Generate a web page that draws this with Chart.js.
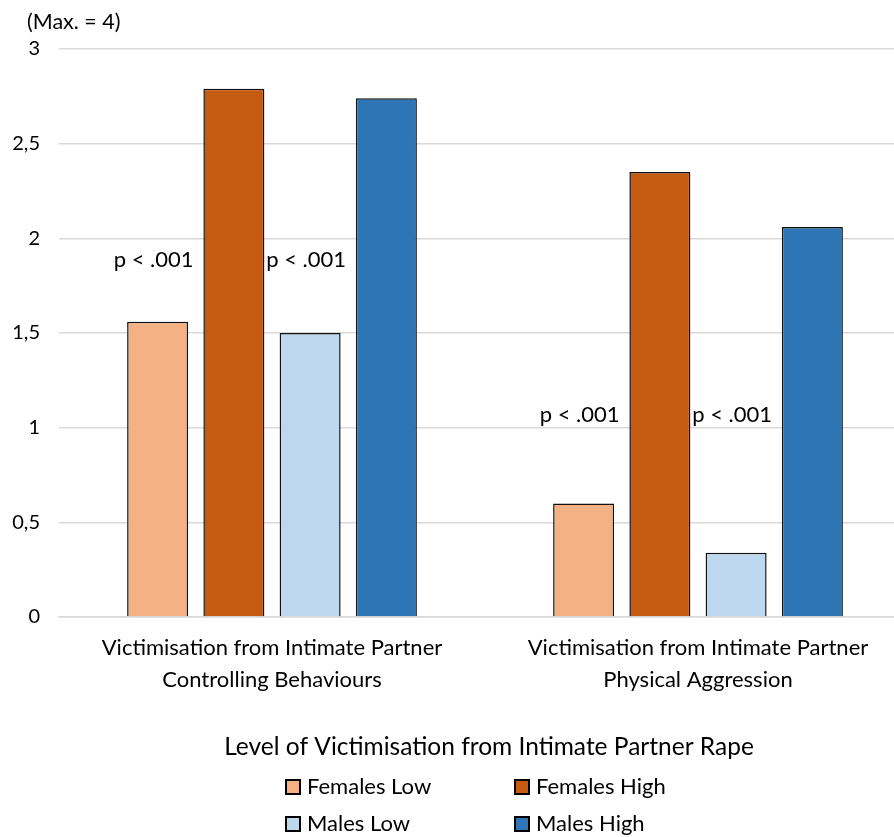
<!DOCTYPE html>
<html lang="en">
<head>
    <meta charset="UTF-8">
    <title>Intimate Partner Victimisation</title>
    <script src="https://cdn.jsdelivr.net/npm/chart.js"></script>
    <style>
        html, body {
            margin: 0;
            padding: 0;
            background: #ffffff;
            overflow: hidden;
        }
        .wrap {
            width: 914px;
            height: 837px;
        }
    </style>
</head>
<body>
    <div class="wrap">
        <canvas id="chart"></canvas>
    </div>

    <script>
        const categories = [
            ['Victimisation from Intimate Partner', 'Controlling Behaviours'],
            ['Victimisation from Intimate Partner', 'Physical Aggression']
        ];
        const seriesNames = ['Females Low', 'Females High', 'Males Low', 'Males High'];
        const femalesLow = [1.56, 0.60];
        const femalesHigh = [2.79, 2.35];
        const malesLow = [1.50, 0.34];
        const malesHigh = [2.74, 2.06];
        const yTicks = [0, 0.5, 1, 1.5, 2, 2.5, 3];

        // significance notes: text, dataset it sits over, category, y value
        const noteText = ['p < .001', 'p < .001', 'p < .001', 'p < .001'];
        const noteSeries = [0, 2, 0, 2];
        const noteCategory = [0, 0, 1, 1];
        const noteY = [1.886, 1.886, 1.067, 1.067];

        const colors = ['#F4B183', '#C55A11', '#BDD7EE', '#2E75B6'];
        const FONT = 'Lato, "Open Sans", sans-serif';

        const notesPlugin = {
            id: 'notes',
            afterDatasetsDraw(chart) {
                const ctx = chart.ctx;
                const y = chart.scales.y;
                ctx.save();
                ctx.font = '22px ' + FONT;
                ctx.fillStyle = '#000';
                ctx.textAlign = 'center';
                ctx.textBaseline = 'middle';
                noteText.forEach((t, i) => {
                    const bar = chart.getDatasetMeta(noteSeries[i]).data[noteCategory[i]];
                    ctx.fillText(t, bar.x - 4, y.getPixelForValue(noteY[i]));
                });
                ctx.restore();
            }
        };

        const extrasPlugin = {
            id: 'extras',
            afterDraw(chart) {
                const ctx = chart.ctx;
                ctx.save();
                ctx.fillStyle = '#000';
                ctx.textBaseline = 'middle';

                // axis note
                ctx.font = '21.5px ' + FONT;
                ctx.textAlign = 'left';
                ctx.fillText('(Max. = 4)', 27, 22);

                // legend title
                ctx.font = '24.5px ' + FONT;
                ctx.textAlign = 'center';
                ctx.fillText('Level of Victimisation from Intimate Partner Rape', 489, 747);

                // legend entries in two columns
                ctx.font = '22px ' + FONT;
                ctx.textAlign = 'left';
                const colX = [286, 515];
                const rowY = [787, 824];
                chart.data.datasets.forEach((ds, i) => {
                    const x = colX[i % 2];
                    const yy = rowY[Math.floor(i / 2)];
                    ctx.fillStyle = ds.backgroundColor;
                    ctx.fillRect(x, yy - 7, 14, 14);
                    ctx.strokeStyle = '#000';
                    ctx.lineWidth = 2;
                    ctx.strokeRect(x, yy - 7, 14, 14);
                    ctx.fillStyle = '#000';
                    ctx.fillText(ds.label, x + 21, yy);
                });
                ctx.restore();
            }
        };

        const seriesData = [femalesLow, femalesHigh, malesLow, malesHigh];

        new Chart(document.getElementById('chart'), {
            type: 'bar',
            data: {
                labels: categories,
                datasets: seriesNames.map((name, i) => ({
                    label: name,
                    data: seriesData[i],
                    backgroundColor: colors[i],
                    borderColor: '#111',
                    borderWidth: 1.5,
                    categoryPercentage: 0.716,
                    barPercentage: 0.8
                }))
            },
            options: {
                responsive: true,
                maintainAspectRatio: false,
                animation: false,
                layout: { padding: { top: 49, left: 0, right: 3, bottom: 0 } },
                plugins: {
                    legend: { display: false },
                    tooltip: { enabled: false }
                },
                scales: {
                    x: {
                        grid: { display: false, drawTicks: false },
                        border: { color: '#d9d9d9', width: 1.5 },
                        ticks: {
                            color: '#000',
                            padding: 15,
                            font: { family: FONT, size: 22, lineHeight: 1.45 }
                        },
                        afterFit(scale) { scale.height = 220; }
                    },
                    y: {
                        min: 0,
                        max: 3,
                        afterBuildTicks(scale) {
                            scale.ticks = yTicks.map(v => ({ value: v }));
                        },
                        grid: { color: '#d9d9d9', lineWidth: 1.5, drawTicks: false },
                        border: { display: false },
                        ticks: {
                            color: '#000',
                            padding: 19,
                            font: { family: FONT, size: 20 },
                            callback: v => String(v).replace('.', ',')
                        },
                        afterFit(scale) { scale.width = 59; }
                    }
                }
            },
            plugins: [notesPlugin, extrasPlugin]
        });
    </script>
</body>
</html>
